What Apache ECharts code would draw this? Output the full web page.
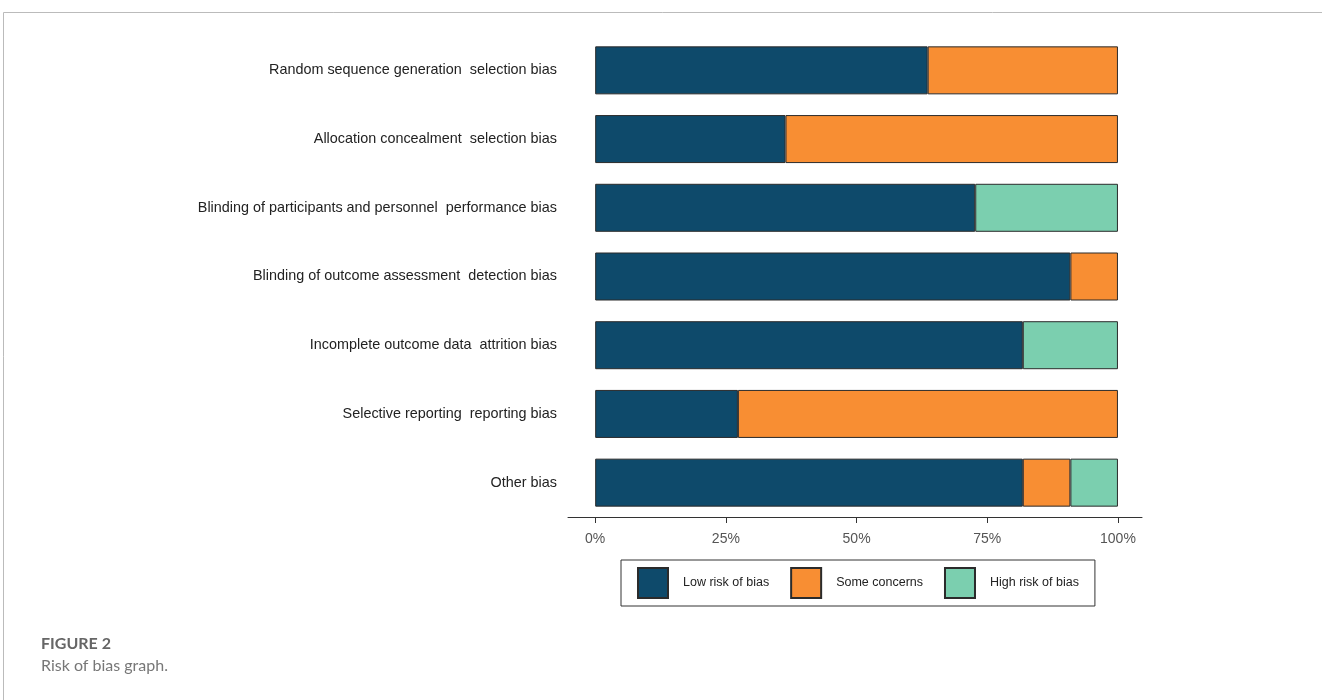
<!DOCTYPE html>
<html>
<head>
<meta charset="utf-8">
<script src="https://cdn.jsdelivr.net/npm/echarts@6/dist/echarts.min.js"></script>
<style>
  html, body { margin: 0; padding: 0; background: #fff; }
  #chart { width: 1322px; height: 700px; }
</style>
</head>
<body>
<div id="chart"></div>
<script>
// risk of bias domains (top to bottom)
const domains = [
  "Random sequence generation  selection bias",
  "Allocation concealment  selection bias",
  "Blinding of participants and personnel  performance bias",
  "Blinding of outcome assessment  detection bias",
  "Incomplete outcome data  attrition bias",
  "Selective reporting  reporting bias",
  "Other bias"
];
// percentages of studies
const lowRisk = [63.6, 36.4, 72.7, 90.9, 81.8, 27.3, 81.8];
const someConcerns = [36.4, 63.6, null, 9.1, null, 72.7, 9.1];
const highRisk = [null, null, 27.3, null, 18.2, null, 9.1];
const tickValues = [0, 25, 50, 75, 100];

const colors = { low: "#0e4a6b", some: "#f88e33", high: "#7bcfaf" };

const chart = echarts.init(document.getElementById("chart"));

function barSeries(name, data, color) {
  return {
    name: name,
    type: "bar",
    stack: "rob",
    data: data,
    barWidth: 48,
    itemStyle: { color: color, borderColor: "#2b2b2b", borderWidth: 1 },
    emphasis: { disabled: true },
    animation: false
  };
}

chart.setOption({
  animation: false,
  textStyle: { fontFamily: "Liberation Sans, Arial, sans-serif" },
  grid: { left: 568, right: 180, top: 36, height: 481 },
  xAxis: {
    type: "value",
    min: -5.2,
    max: 104.6,
    splitLine: { show: false },
    axisLine: { show: true, lineStyle: { color: "#333", width: 1 } },
    axisTick: { show: true, customValues: tickValues, length: 6, inside: false, lineStyle: { color: "#333" } },
    axisLabel: {
      customValues: tickValues,
      formatter: v => v + "%",
      color: "#555",
      fontSize: 14,
      margin: 15
    }
  },
  yAxis: {
    type: "category",
    data: domains,
    inverse: true,
    axisLine: { show: false },
    axisTick: { show: false },
    axisLabel: { color: "#222", fontSize: 14.4, margin: 11, padding: [5, 0, 0, 0] }
  },
  legend: {
    left: 621,
    top: 560,
    orient: "horizontal",
    data: ["Low risk of bias", "Some concerns", "High risk of bias"],
    itemWidth: 30,
    itemHeight: 30,
    itemGap: 21,
    icon: "rect",
    padding: [7, 16, 7, 16],
    borderColor: "#333",
    borderWidth: 1,
    selectedMode: false,
    textStyle: { fontSize: 12.5, color: "#222", padding: [4, 0, 0, 10] }
  },
  graphic: [
    { type: "line", shape: { x1: 3.5, y1: 12.5, x2: 1322, y2: 12.5 }, style: { stroke: "#bbb", lineWidth: 1 } },
    { type: "line", shape: { x1: 3.5, y1: 12.5, x2: 3.5, y2: 700 }, style: { stroke: "#bbb", lineWidth: 1 } },
    { type: "text", left: 41, top: 636, style: { text: "FIGURE 2", fill: "#666", font: "bold 16px Lato, 'Open Sans', sans-serif" } },
    { type: "text", left: 41, top: 658, style: { text: "Risk of bias graph.", fill: "#777", font: "16px Lato, 'Open Sans', sans-serif" } }
  ],
  series: [
    barSeries("Low risk of bias", lowRisk, colors.low),
    barSeries("Some concerns", someConcerns, colors.some),
    barSeries("High risk of bias", highRisk, colors.high)
  ]
});
</script>
</body>
</html>
